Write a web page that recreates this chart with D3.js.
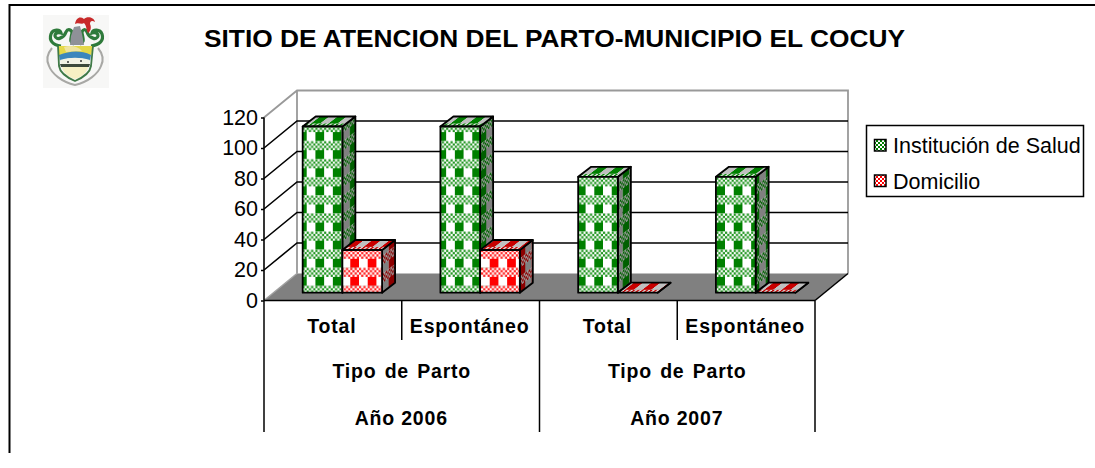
<!DOCTYPE html>
<html><head><meta charset="utf-8">
<script src="https://cdnjs.cloudflare.com/ajax/libs/d3/7.8.5/d3.min.js"></script>
<style>html,body{margin:0;padding:0;background:#fff}svg{display:block}text{font-family:"Liberation Sans",Arial,sans-serif;fill:#000}</style>
</head><body><div id="c"></div>
<script>
const titleText = "SITIO DE ATENCION DEL PARTO-MUNICIPIO EL COCUY";
const categories = ["Total","Espontáneo","Total","Espontáneo"];
const level2 = ["Tipo de Parto","Tipo de Parto"];
const level3 = ["Año 2006","Año 2007"];
const seriesNames = ["Institución de Salud","Domicilio"];
const institucion = [109,109,76,76];
const domicilio = [28,28,0,0];
const yTicks = [0,20,40,60,80,100,120];

const W=1095,H=468;
const svg=d3.select("#c").append("svg").attr("width",W).attr("height",H);
const defs=svg.append("defs");

const x=d3.scaleBand().domain(d3.range(categories.length)).range([264,815]);
const y=d3.scaleLinear().domain([0,120]).range([300.5,117.5]);
const series=d3.scaleBand().domain([0,1]).range([0,79.4]);
const wall={dx:33,dy:27}, plane={dx:9.5,dy:7.8}, depth={dx:13,dy:10};

// Plaid tile: columns of colour a / b, solid rows then a checker band
function plaid(id,a,b,dotA,dotB,w,rowSolid,rowDots,tf){
  const h=rowSolid+rowDots;
  const p=defs.append("pattern").attr("id",id).attr("patternUnits","userSpaceOnUse")
    .attr("width",w).attr("height",h).attr("patternTransform",tf);
  p.append("rect").attr("width",w/2).attr("height",rowSolid).attr("fill",b);
  p.append("rect").attr("x",w/2).attr("width",w/2).attr("height",rowSolid).attr("fill",a);
  const nc=8, nr=Math.max(1,Math.round(rowDots/2.26));
  p.append("rect").attr("y",rowSolid).attr("width",w).attr("height",rowDots).attr("fill",dotB);
  for(let r=0;r<nr;r++)for(let c=0;c<nc;c++){
    if((r+c)%2===0) p.append("rect").attr("x",c*w/nc).attr("y",rowSolid+r*rowDots/nr)
      .attr("width",w/nc).attr("height",rowDots/nr).attr("fill",dotA);
  }
}
function smallCheck(id,a,b){
  const p=defs.append("pattern").attr("id",id).attr("patternUnits","userSpaceOnUse").attr("width",4).attr("height",4);
  p.append("rect").attr("width",4).attr("height",4).attr("fill",b);
  p.append("rect").attr("width",2).attr("height",2).attr("fill",a);
  p.append("rect").attr("x",2).attr("y",2).attr("width",2).attr("height",2).attr("fill",a);
}
const colors=[
 {front:"#008000",dot:"#1f951f",side:"#006000",top:"#008000",name:"g"},
 {front:"#ff0000",dot:"#ff2222",side:"#8c0000",top:"#c80000",name:"r"}];
const skewSide=-Math.atan(depth.dy/depth.dx)*180/Math.PI;
const skewTop=-Math.atan(depth.dx/depth.dy)*180/Math.PI;
colors.forEach(c=>{
  plaid("f"+c.name,c.front,"#ffffff",c.dot,"#ffffff",17.43,9.05,9.05,"translate(306.7,276.9)");
  plaid("s"+c.name,c.side,"#808080",c.side,"#9c9c9c",13,9.05,9.05,`translate(343.3,276.9) skewY(${skewSide})`);
  plaid("t"+c.name,c.top,"#c0c0c0",c.top,"#e0e0e0",17.43,7,3,`translate(294.2,-10) skewX(${skewTop})`);
  smallCheck("l"+c.name,c.front,"#ffffff");
});
const blur=defs.append("filter").attr("id","blur").attr("x","-10%").attr("y","-10%").attr("width","120%").attr("height","120%");
blur.append("feGaussianBlur").attr("stdDeviation",0.7);

// frame
svg.append("path").attr("d",`M9.5,453V5H${W}`).attr("fill","none").attr("stroke","#000").attr("stroke-width",2);

// logo
const logo=svg.append("g").attr("filter","url(#blur)");
logo.append("rect").attr("x",43).attr("y",15).attr("width",66).attr("height",73).attr("fill","#f7f7f6");
const lp=(d,f,s,sw)=>logo.append("path").attr("d",d).attr("fill",f||"none").attr("stroke",s||"none").attr("stroke-width",sw||0);
lp("M61,46C52,45 49,40 51,34C53,29 60,29 61,33C58,32 55,33 55,36C56,41 64,38 66,32C68,28 72,30 72,33C71,39 69,42 74,44","none","#2f7a3a",3.2);
lp("M91,46C100,45 104,40 102,34C100,29 93,29 92,33C95,32 98,33 98,36C97,41 89,38 87,32C85,28 82,30 82,33C83,39 85,42 80,44","none","#2f7a3a",3.2);
lp("M70,45L71,36L74,27L80,26L82,34L84,45Z","#8f9198");
lp("M75,24C76,18 80,16 84,19C87,16 94,17 95,22C92,20 90,21 90,24C92,28 90,32 88,33C86,30 87,26 84,23C82,25 78,22 75,24Z","#c8292a");
lp("M58,46L93,46L91,56C80,50 70,52 59,56Z","#e4d84a");
lp("M64,47C70,45 78,46 82,51L66,52Z","#efe4a0");
lp("M59,55C70,51 80,50 91,55L90,61C80,57 70,57 60,61Z","#3b86bd");
lp("M60,60C70,57 80,57 90,60L89,64L61,64Z","#f2f2e4");
lp("M60,64L90,64L89,67L61,67Z","#3c4a3a");
lp("M62,67L88,67C87,73 81,77 75,79C69,77 63,73 62,67Z","#f6f0c4");
lp("M58,46L59,66C60,73 68,78 75,81C82,78 90,73 91,66L93,46","none","#3f7a47",1.8);
lp("M52,48C47,54 46,60 49,66C52,74 62,82 75,85C88,82 98,74 101,66C104,60 103,54 98,48","none","#a8a8a5",2);
logo.append("circle").attr("cx",68).attr("cy",62).attr("r",1).attr("fill","#333");
logo.append("circle").attr("cx",81).attr("cy",61).attr("r",1).attr("fill","#333");

// title
svg.append("text").attr("x",204).attr("y",47).attr("font-size",23.5).attr("font-weight","bold").text(titleText)
  .attr("textLength",701).attr("lengthAdjust","spacingAndGlyphs");

// walls
const x0=x.range()[0],x1=x.range()[1];
const yT=y(120),yB=y(0);
svg.append("path").attr("d",`M${x0},${yT}L${x0+wall.dx},${yT-wall.dy}H${x1+wall.dx}V${yB-wall.dy}M${x0+wall.dx},${yT-wall.dy}V${yB-wall.dy}`)
  .attr("fill","none").attr("stroke","#999").attr("stroke-width",1.8);
// grid
yTicks.filter(t=>t>0&&t<120).forEach(t=>{
  svg.append("path").attr("d",`M${x0},${y(t)}L${x0+wall.dx},${y(t)-wall.dy}H${x1+wall.dx}`)
    .attr("fill","none").attr("stroke","#000").attr("stroke-width",1.6);
});
// floor
svg.append("path").attr("d",`M${x0},${yB}L${x0+wall.dx},${yB-wall.dy}H${x1+wall.dx}L${x1},${yB}Z`).attr("fill","#808080");
svg.append("path").attr("d",`M${x1+wall.dx},${yB-wall.dy}L${x1},${yB}`).attr("stroke","#000").attr("stroke-width",1.5);
svg.append("path").attr("d",`M${x0},${yB}L${x0+wall.dx},${yB-wall.dy}`).attr("stroke","#a0a0a0").attr("stroke-width",1.5);

// bars
const allSeries=[institucion,domicilio];
const bw=series.bandwidth();
categories.forEach((_,i)=>{
  allSeries.forEach((vals,s)=>{
    const c=colors[s], v=vals[i];
    const cx=x(i)+x.bandwidth()/2-bw;
    const L=cx+series(s)+plane.dx, R=L+bw;
    const T=y(v)-plane.dy, B=y(0)-plane.dy;
    const g=svg.append("g").attr("stroke","#000").attr("stroke-width",1.8).attr("stroke-linejoin","round");
    g.append("path").attr("d",`M${R},${T}L${R+depth.dx},${T-depth.dy}V${B-depth.dy}L${R},${B}Z`).attr("fill",`url(#s${c.name})`);
    // top face is drawn in coordinates local to its own front edge so its pattern stays in phase
    g.append("path").attr("transform",`translate(0,${T})`)
      .attr("d",`M${L},0L${L+depth.dx},${-depth.dy}H${R+depth.dx}L${R},0Z`).attr("fill",`url(#t${c.name})`);
    if(v>0) g.append("rect").attr("x",L).attr("y",T).attr("width",bw).attr("height",B-T).attr("fill",`url(#f${c.name})`);
  });
});

// axis
const axis=d3.axisLeft(y).tickValues(yTicks).tickSize(3).tickPadding(3);
const ax=svg.append("g").attr("transform",`translate(${x0},0)`).call(axis);
ax.selectAll("text").attr("font-size",21.5).style("font-family",'"Liberation Sans",Arial,sans-serif');
ax.selectAll("line").attr("stroke","#000").attr("stroke-width",1.5);
ax.select(".domain").attr("stroke","#000").attr("stroke-width",1.6).attr("d",`M0,${yT}V${yB}`);

// baseline and multi level category axis
svg.append("line").attr("x1",x0).attr("x2",x1).attr("y1",yB).attr("y2",yB).attr("stroke","#000").attr("stroke-width",1.6);
const catFont=19.5, lsp=0.8;
const catText=(t,px,py,ws)=>svg.append("text").attr("x",px).attr("y",py).attr("text-anchor","middle").attr("font-size",catFont)
   .attr("font-weight","bold").attr("letter-spacing",lsp).attr("word-spacing",ws||0).text(t);
categories.forEach((t,i)=>catText(t,x(i)+x.bandwidth()/2-1,332.5));
x.domain().forEach(i=>{ if(i%2===1) svg.append("line").attr("x1",x(i)).attr("x2",x(i)).attr("y1",yB).attr("y2",340).attr("stroke","#000").attr("stroke-width",1.5);});
[0,2,4].forEach(i=>{const px=x0+i*x.bandwidth(); svg.append("line").attr("x1",px).attr("x2",px).attr("y1",yB).attr("y2",432).attr("stroke","#000").attr("stroke-width",1.5);});
level2.forEach((t,i)=>catText(t,x(i*2)+x.bandwidth(),378.3,2));
level3.forEach((t,i)=>catText(t,x(i*2)+x.bandwidth()-0.5,424.5));

// legend
svg.append("rect").attr("x",866.5).attr("y",125.5).attr("width",217).attr("height",71).attr("fill","#fff").attr("stroke","#000").attr("stroke-width",1.5);
seriesNames.forEach((t,i)=>{
  const yy=139.5+i*35.5;
  svg.append("rect").attr("x",874.5).attr("y",yy).attr("width",11.5).attr("height",11.5).attr("fill",`url(#l${colors[i].name})`).attr("stroke","#000").attr("stroke-width",1.5);
  svg.append("text").attr("x",893).attr("y",yy+13.5).attr("font-size",21.5).text(t);
});
</script></body></html>
